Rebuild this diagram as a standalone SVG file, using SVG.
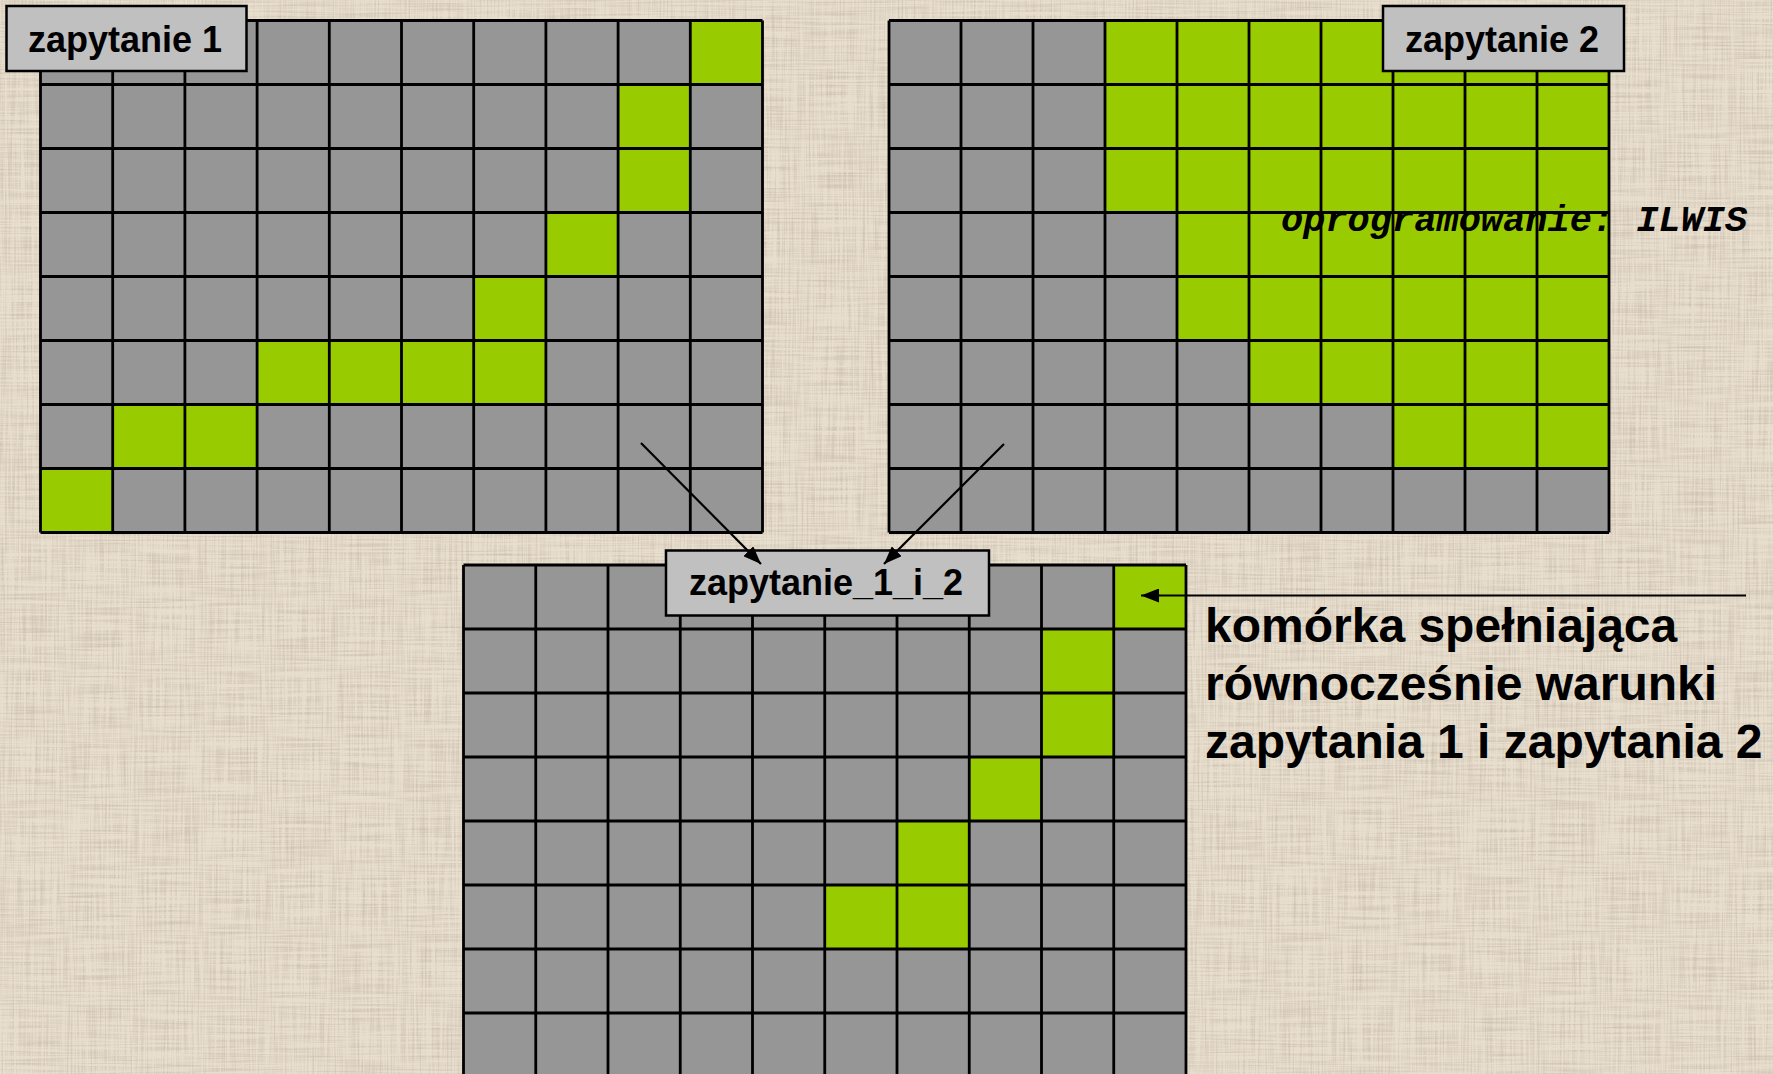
<svg xmlns="http://www.w3.org/2000/svg" width="1773" height="1074" viewBox="0 0 1773 1074">
  <defs>
    <filter id="linen" x="0" y="0" width="100%" height="100%" filterUnits="userSpaceOnUse">
      <feTurbulence type="fractalNoise" baseFrequency="0.015 0.55" numOctaves="2" seed="3" result="h"/>
      <feTurbulence type="fractalNoise" baseFrequency="0.55 0.015" numOctaves="2" seed="9" result="v"/>
      <feComposite in="h" in2="v" operator="arithmetic" k2="0.5" k3="0.5" result="n"/>
      <feColorMatrix in="n" type="matrix" values="0 0 0 0 0.55  0 0 0 0 0.47  0 0 0 0 0.37  3.2 0 0 0 -1.35"/>
    </filter>
    <marker id="ah" markerUnits="userSpaceOnUse" markerWidth="20" markerHeight="14" refX="18" refY="7" orient="auto">
      <path d="M0,0 L18,7 L0,14 z" fill="#000"/>
    </marker>
    <style>
      .gray { fill: #969696; }
      .green { fill: #99CC00; }
      .lines { fill: none; stroke: #000; stroke-width: 2.8; }
      .lbl { fill: #C0C0C0; stroke: #000; stroke-width: 2.5; }
      .lt { font-family: "Liberation Sans", Arial, sans-serif; font-weight: bold; font-size: 36px; fill: #000; text-anchor: middle; }
      .note { font-family: "Liberation Sans", Arial, sans-serif; font-weight: bold; font-size: 48px; fill: #000; }
      .mono { font-family: "Liberation Mono", "Courier New", monospace; font-weight: bold; font-style: italic; font-size: 37px; fill: #000; }
      .conn { stroke: #000; stroke-width: 2.2; fill: none; marker-end: url(#ah); }
    </style>
  </defs>

  <g id="background">
    <rect x="0" y="0" width="1773" height="1074" fill="#E8DECE"/>
    <rect x="0" y="0" width="1773" height="1074" filter="url(#linen)" opacity="0.65"/>
  </g>

  <g id="grid-zapytanie1">
    <rect class="gray" x="40.5" y="20.5" width="722" height="512"/>
    <rect class="green" x="690.3" y="20.5" width="72.2" height="64"/>
    <rect class="green" x="618.1" y="84.5" width="72.2" height="128"/>
    <rect class="green" x="545.9" y="212.5" width="72.2" height="64"/>
    <rect class="green" x="473.7" y="276.5" width="72.2" height="128"/>
    <rect class="green" x="257.1" y="340.5" width="288.8" height="64"/>
    <rect class="green" x="112.7" y="404.5" width="144.4" height="64"/>
    <rect class="green" x="40.5" y="468.5" width="72.2" height="64"/>
    <path class="lines" d="M40.5,20.5V532.5 M112.7,20.5V532.5 M184.9,20.5V532.5 M257.1,20.5V532.5 M329.3,20.5V532.5 M401.5,20.5V532.5 M473.7,20.5V532.5 M545.9,20.5V532.5 M618.1,20.5V532.5 M690.3,20.5V532.5 M762.5,20.5V532.5 M40.5,20.5H762.5 M40.5,84.5H762.5 M40.5,148.5H762.5 M40.5,212.5H762.5 M40.5,276.5H762.5 M40.5,340.5H762.5 M40.5,404.5H762.5 M40.5,468.5H762.5 M40.5,532.5H762.5"/>
  </g>

  <g id="grid-zapytanie2">
    <rect class="gray" x="889" y="20.5" width="720" height="512"/>
    <rect class="green" x="1105" y="20.5" width="504" height="192"/>
    <rect class="green" x="1177" y="212.5" width="432" height="128"/>
    <rect class="green" x="1249" y="340.5" width="360" height="64"/>
    <rect class="green" x="1393" y="404.5" width="216" height="64"/>
    <path class="lines" d="M889,20.5V532.5 M961,20.5V532.5 M1033,20.5V532.5 M1105,20.5V532.5 M1177,20.5V532.5 M1249,20.5V532.5 M1321,20.5V532.5 M1393,20.5V532.5 M1465,20.5V532.5 M1537,20.5V532.5 M1609,20.5V532.5 M889,20.5H1609 M889,84.5H1609 M889,148.5H1609 M889,212.5H1609 M889,276.5H1609 M889,340.5H1609 M889,404.5H1609 M889,468.5H1609 M889,532.5H1609"/>
  </g>

  <g id="grid-zapytanie_1_i_2">
    <rect class="gray" x="463.5" y="565" width="722.5" height="512"/>
    <rect class="green" x="1113.75" y="565" width="72.25" height="64"/>
    <rect class="green" x="1041.5" y="629" width="72.25" height="128"/>
    <rect class="green" x="969.25" y="757" width="72.25" height="64"/>
    <rect class="green" x="897" y="821" width="72.25" height="128"/>
    <rect class="green" x="824.75" y="885" width="72.25" height="64"/>
    <path class="lines" d="M463.5,565V1077 M535.75,565V1077 M608,565V1077 M680.25,565V1077 M752.5,565V1077 M824.75,565V1077 M897,565V1077 M969.25,565V1077 M1041.5,565V1077 M1113.75,565V1077 M1186,565V1077 M463.5,565H1186 M463.5,629H1186 M463.5,693H1186 M463.5,757H1186 M463.5,821H1186 M463.5,885H1186 M463.5,949H1186 M463.5,1013H1186"/>
  </g>

  <g id="label-zapytanie1">
    <rect class="lbl" x="6.5" y="6" width="240" height="65"/>
    <text class="lt" x="125" y="52">zapytanie 1</text>
  </g>

  <g id="label-zapytanie2">
    <rect class="lbl" x="1383" y="6" width="241" height="65"/>
    <text class="lt" x="1502" y="52">zapytanie 2</text>
  </g>

  <g id="label-zapytanie_1_i_2">
    <rect class="lbl" x="666" y="550.5" width="323" height="65"/>
    <text class="lt" x="826" y="595">zapytanie_1_i_2</text>
  </g>

  <g id="note-oprogramowanie">
    <text class="mono" x="1281" y="231">oprogramowanie: ILWIS</text>
  </g>

  <g id="note-komorka">
    <text class="note" x="1205" y="642">komórka spełniająca</text>
    <text class="note" x="1205" y="700">równocześnie warunki</text>
    <text class="note" x="1205" y="758">zapytania 1 i zapytania 2</text>
  </g>

  <g id="connectors">
    <line class="conn" x1="641" y1="443" x2="761" y2="564"/>
    <line class="conn" x1="1004" y1="444" x2="884" y2="564"/>
    <line class="conn" x1="1746" y1="595.5" x2="1141" y2="595.5"/>
  </g>
</svg>
